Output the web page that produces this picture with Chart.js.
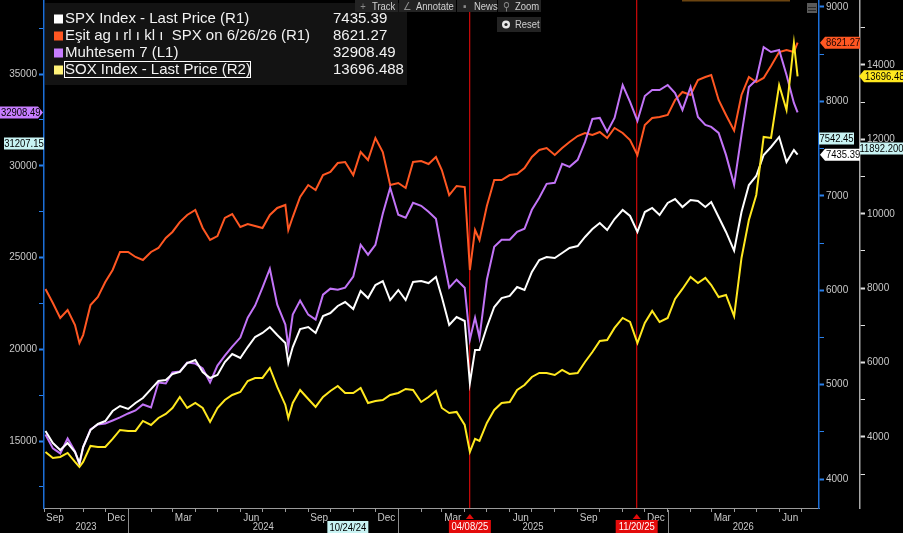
<!DOCTYPE html>
<html>
<head>
<meta charset="utf-8">
<script src="https://cdn.jsdelivr.net/npm/chart.js@4.4.1/dist/chart.umd.min.js"></script>
<style>
  html, body { margin: 0; padding: 0; background: #000; }
  canvas { display: block; }
</style>
</head>
<body>
<canvas id="chart" width="903" height="533"></canvas>
<script>
// sample dates (roughly every 10 days, plus the sharp dips)
const dates = [
  '2023-09-11', '2023-09-21',
  '2023-10-01', '2023-10-11', '2023-10-21', '2023-10-27',
  '2023-11-01', '2023-11-11', '2023-11-21',
  '2023-12-01', '2023-12-11', '2023-12-21',
  '2024-01-01', '2024-01-11', '2024-01-21',
  '2024-02-01', '2024-02-11', '2024-02-21',
  '2024-03-01', '2024-03-11', '2024-03-21',
  '2024-04-01', '2024-04-11', '2024-04-21',
  '2024-05-01', '2024-05-11', '2024-05-21',
  '2024-06-01', '2024-06-11', '2024-06-21',
  '2024-07-01', '2024-07-11', '2024-07-21',
  '2024-08-01', '2024-08-05', '2024-08-11', '2024-08-21',
  '2024-09-01', '2024-09-11', '2024-09-21',
  '2024-10-01', '2024-10-11', '2024-10-21',
  '2024-11-01', '2024-11-11', '2024-11-21',
  '2024-12-01', '2024-12-11', '2024-12-21',
  '2025-01-01', '2025-01-11', '2025-01-21',
  '2025-02-01', '2025-02-11', '2025-02-21',
  '2025-03-01', '2025-03-11', '2025-03-21',
  '2025-04-01', '2025-04-08', '2025-04-15', '2025-04-21',
  '2025-05-01', '2025-05-11', '2025-05-21',
  '2025-06-01', '2025-06-11', '2025-06-21',
  '2025-07-01', '2025-07-11', '2025-07-21',
  '2025-08-01', '2025-08-11', '2025-08-21',
  '2025-09-01', '2025-09-11', '2025-09-21',
  '2025-10-01', '2025-10-11', '2025-10-21',
  '2025-11-01', '2025-11-11', '2025-11-21',
  '2025-12-01', '2025-12-11', '2025-12-21',
  '2026-01-01', '2026-01-11', '2026-01-21',
  '2026-02-01', '2026-02-11', '2026-02-21',
  '2026-03-01', '2026-03-11', '2026-03-21',
  '2026-04-01', '2026-04-11', '2026-04-21',
  '2026-05-01', '2026-05-11', '2026-05-21',
  '2026-06-01', '2026-06-11', '2026-06-21', '2026-06-26'
];

// SPX Index (R1)
const spx = [
  4509, 4381,
  4307, 4381, 4286, 4170,
  4339, 4519, 4583,
  4614, 4720, 4773,
  4742, 4805, 4858,
  4953, 5038, 5049,
  5112, 5134, 5229,
  5261, 5134, 5070,
  5102, 5239, 5324,
  5282, 5398, 5504,
  5547, 5610, 5525,
  5441, 5229, 5398, 5589,
  5610, 5547, 5727,
  5758, 5833, 5875,
  5801, 5992, 5917,
  6055, 6097, 5896,
  6002, 5896, 6087,
  6097, 6076, 6140,
  5928, 5631, 5716,
  5674, 5017, 5367, 5367,
  5610, 5822, 5917,
  5939, 6034, 6002,
  6193, 6320, 6352,
  6341, 6394, 6447,
  6468, 6564, 6648,
  6712, 6638, 6754,
  6850, 6786, 6617,
  6828, 6871, 6797,
  6924, 6966, 6881,
  6956, 6945, 6881,
  6934, 6775, 6617,
  6420, 6828, 7114,
  7210, 7432, 7517,
  7623, 7358, 7485, 7435.39
];

// equal weight SPX (R1)
const equalWeight = [
  6013, 5864,
  5706, 5790, 5631, 5441,
  5525, 5843, 5928,
  6087, 6214, 6405,
  6405, 6352, 6320,
  6405, 6447, 6553,
  6617, 6722, 6797,
  6850, 6659, 6532,
  6574, 6765, 6807,
  6670, 6701, 6680,
  6659, 6797, 6871,
  6903, 6638, 6775, 6987,
  7114, 7061, 7220,
  7252, 7347, 7358,
  7220, 7464, 7379,
  7612, 7464, 7114,
  7136, 7083, 7358,
  7369, 7337, 7411,
  7273, 7008, 7104,
  7093, 6214, 6638, 6532,
  6892, 7167, 7167,
  7220, 7231, 7294,
  7411, 7485, 7506,
  7432, 7506, 7570,
  7633, 7665, 7644,
  7676, 7612, 7718,
  7665, 7591, 7432,
  7750, 7824, 7835,
  7856, 8015, 8100,
  8068, 8227, 8258,
  8280, 8015, 7856,
  7690, 8068, 8258,
  8205, 8248, 8375,
  8523, 8544, 8523, 8621.27
];

// Muhtesem 7 (L1)
const mag7 = [
  15358, 14596,
  14324, 15140, 14433, 13725,
  14651, 15630, 15902,
  15956, 16120, 16283,
  16501, 16664, 16990,
  16827, 18187, 18133,
  18731, 18786, 19275,
  19221, 18949, 18187,
  19112, 19656, 20146,
  20636, 21724, 22377,
  23356, 24390, 22431,
  21343, 20146, 21887, 22649,
  21887, 21615, 22975,
  23302, 23247, 23356,
  23955, 25696, 25152,
  25696, 27383, 28797,
  27328, 27165, 27981,
  27818, 27491, 27111,
  25369, 23356, 23792,
  23356, 20527, 21724, 20636,
  23792, 25587, 25968,
  25968, 26403, 26566,
  27600, 28253, 29015,
  29069, 30103, 29940,
  30321, 31300, 32552,
  32606, 31844, 32606,
  34401, 33477, 32443,
  33803, 34129, 34129,
  34401, 33966, 33041,
  34293, 32660, 32225,
  32116, 31790, 30593,
  28960, 31681, 34293,
  34674, 36469, 36197,
  36306, 34946, 33422, 32908.49
];

// SOX Index (R2)
const sox = [
  3597, 3436,
  3463, 3571, 3329, 3194,
  3329, 3759, 3732,
  3732, 3947, 4189,
  4162, 4162, 4431,
  4323, 4511, 4619,
  4780, 5076, 4780,
  4915, 4780, 4404,
  4780, 4995, 5130,
  5210, 5506, 5587,
  5587, 5855, 5345,
  4861, 4511, 4915, 5264,
  5022, 4807, 5076,
  5237, 5372, 5183,
  5183, 5318, 4915,
  4968, 4995, 5130,
  5183, 5291, 5264,
  4941, 5076, 5237,
  4780, 4646, 4673,
  4323, 3597, 3947, 3893,
  4377, 4726, 4915,
  4941, 5264, 5398,
  5613, 5721, 5721,
  5667, 5802, 5694,
  5721, 6017, 6285,
  6581, 6608, 6931,
  7199, 7092, 6527,
  7065, 7388, 7092,
  7199, 7710, 7979,
  8301, 8140, 8275,
  8086, 7764, 7818,
  7250, 8812, 9834,
  10506, 12065, 12038,
  13462, 12790, 14591, 13696.488
];

// axis ranges and ticks
const leftRange = [11349, 39033];
const r1Range = [3693, 9074];
const r2Range = [2091, 15747];
const leftTicks = [12500, 15000, 17500, 20000, 22500, 25000, 27500, 30000, 32500, 35000, 37500];
const r1Ticks = [4000, 4500, 5000, 5500, 6000, 6500, 7000, 7500, 8000, 8500, 9000];
const r2Ticks = [3000, 4000, 5000, 6000, 7000, 8000, 9000, 10000, 11000, 12000, 13000, 14000, 15000];
const monthNames = ['Jan', 'Feb', 'Mar', 'Apr', 'May', 'Jun', 'Jul', 'Aug', 'Sep', 'Oct', 'Nov', 'Dec'];
const labeledMonths = [2, 5, 8, 11];
const years = [2023, 2024, 2025, 2026];

const legendNames = [
  'SPX Index - Last Price (R1)',
  'Eşit ag ı rl ı kl ı  SPX on 6/26/26 (R1)',
  'Muhtesem 7 (L1)',
  'SOX Index - Last Price (R2)'
];
const legendValues = ['7435.39', '8621.27', '32908.49', '13696.488'];
const eventDates = ['2025-04-08', '2025-11-20'];
const eventLabels = ['04/08/25', '11/20/25'];
const cursorDate = '2024-10-24';
const cursorLabel = '10/24/24';
const cursorValues = { left: 31207.15, r1: 7542.45, r2: 11892.2 };

const toDay = s => Date.UTC(+s.slice(0, 4), +s.slice(5, 7) - 1, +s.slice(8, 10)) / 864e5;
const xMin = toDay('2023-09-09');
const xMax = toDay('2026-07-25');

const family = '"Liberation Sans", Arial, sans-serif';
const axisFont = { family: family, size: 10 };
const labelColor = '#c8c8c8';

function yAxis(position, range, ticks, major, width, lineColor, tickColor, weight) {
  return {
    type: 'linear',
    position: position,
    min: range[0],
    max: range[1],
    weight: weight,
    afterBuildTicks: s => { s.ticks = ticks.map(v => ({ value: v })); },
    afterFit: s => { s.width = width; s.paddingTop = 0; s.paddingBottom = 0; },
    ticks: {
      autoSkip: false,
      color: labelColor,
      padding: 2,
      font: axisFont,
      callback: v => (v % major === 0 ? String(v) : '')
    },
    grid: {
      drawOnChartArea: false,
      drawTicks: true,
      tickLength: 5,
      tickColor: tickColor,
      tickWidth: c => (c.tick && c.tick.value % major === 0 ? 2 : 1)
    },
    border: { display: true, color: lineColor, width: 1.5 }
  };
}

function series(label, values, color, axis, order) {
  return {
    label: label,
    yAxisID: axis,
    order: order,
    data: dates.map((d, i) => ({ x: toDay(d), y: values[i] })),
    borderColor: color,
    backgroundColor: color,
    borderWidth: 2,
    pointRadius: 0,
    tension: 0,
    fill: false
  };
}

// narrow text: squeeze horizontally so it fits the small tags
function narrowText(ctx, text, x, y, align) {
  const sx = 0.86;
  const w = ctx.measureText(text).width * sx;
  let left = x;
  if (align === 'center') left = x - w / 2;
  ctx.save();
  ctx.textAlign = 'left';
  ctx.translate(left, y);
  ctx.scale(sx, 1);
  ctx.fillText(text, 0, 0);
  ctx.restore();
}

function drawTag(ctx, x1, x2, yc, text, bg, fg, point) {
  const h = 12, t = yc - h / 2, b = yc + h / 2, p = 5;
  ctx.fillStyle = bg;
  ctx.beginPath();
  if (point === 'left') {
    ctx.moveTo(x1, yc); ctx.lineTo(x1 + p, t); ctx.lineTo(x2, t); ctx.lineTo(x2, b); ctx.lineTo(x1 + p, b);
  } else if (point === 'right') {
    ctx.moveTo(x2, yc); ctx.lineTo(x2 - p, b); ctx.lineTo(x1, b); ctx.lineTo(x1, t); ctx.lineTo(x2 - p, t);
  } else {
    ctx.rect(x1, t, x2 - x1, h);
  }
  ctx.closePath();
  ctx.fill();
  ctx.fillStyle = fg;
  ctx.font = '11px ' + family;
  ctx.textBaseline = 'middle';
  if (point === 'left') narrowText(ctx, text, x1 + p + 1, yc + 0.5, 'left');
  else if (point === 'right') narrowText(ctx, text, x1 + 1, yc + 0.5, 'left');
  else narrowText(ctx, text, (x1 + x2) / 2, yc + 0.5, 'center');
}

const overlay = {
  id: 'overlay',
  beforeDraw(chart) {
    const ctx = chart.ctx;
    ctx.save();
    ctx.fillStyle = '#000';
    ctx.fillRect(0, 0, chart.width, chart.height);
    ctx.restore();
  },
  beforeDatasetsDraw(chart) {
    const { ctx, chartArea: a, scales } = chart;
    ctx.save();
    ctx.fillStyle = '#c00808';
    eventDates.forEach(d => {
      const x = Math.floor(scales.x.getPixelForValue(toDay(d)));
      ctx.fillRect(x, a.top, 1.3, a.bottom - a.top);
    });
    ctx.restore();
  },
  afterDraw(chart) {
    const { ctx, chartArea: a, scales } = chart;
    const xs = scales.x;
    ctx.save();

    // year row
    const bounds = [xMin].concat(years.slice(1).map(y => toDay(y + '-01-01')), [xMax]);
    ctx.font = '11px ' + family;
    ctx.fillStyle = labelColor;
    ctx.textBaseline = 'middle';
    years.forEach((y, i) => {
      const x1 = xs.getPixelForValue(bounds[i]);
      const x2 = xs.getPixelForValue(bounds[i + 1]);
      narrowText(ctx, String(y), (x1 + x2) / 2, 527, 'center');
    });
    ctx.fillStyle = '#8a8a8a';
    bounds.slice(1, -1).forEach(v => {
      const x = Math.round(xs.getPixelForValue(v));
      ctx.fillRect(x, a.bottom + 2, 1, 533 - a.bottom - 2);
    });

    // date flags under the axis
    const cx = xs.getPixelForValue(toDay(cursorDate));
    drawTag(ctx, cx - 20, cx + 21, 527, cursorLabel, '#c8f3f3', '#000', null);
    eventDates.forEach((d, i) => {
      const x = xs.getPixelForValue(toDay(d));
      ctx.fillStyle = '#e30b0b';
      ctx.beginPath();
      ctx.moveTo(x, a.bottom + 6);
      ctx.lineTo(x - 4, a.bottom + 11);
      ctx.lineTo(x + 4, a.bottom + 11);
      ctx.closePath();
      ctx.fill();
      ctx.fillRect(x - 21, 520, 42, 13);
      ctx.fillStyle = '#fff';
      ctx.font = '11px ' + family;
      ctx.textBaseline = 'middle';
      narrowText(ctx, eventLabels[i], x, 527, 'center');
    });

    // legend box
    const colors = ['#ffffff', '#ff5722', '#c77dff', '#fff27a'];
    ctx.fillStyle = '#131313';
    ctx.fillRect(45, 3, 362, 82);
    ctx.font = '15px ' + family;
    ctx.textBaseline = 'middle';
    ctx.textAlign = 'left';
    legendNames.forEach((name, i) => {
      const y = 19 + i * 17;
      ctx.fillStyle = colors[i];
      ctx.fillRect(54, y - 4.5, 9, 9);
      ctx.fillStyle = '#f2f2f2';
      ctx.fillText(name, 65, y);
      ctx.fillText(legendValues[i], 333, y);
    });
    ctx.strokeStyle = '#ffffff';
    ctx.lineWidth = 1;
    ctx.strokeRect(64.5, 61.5, 186, 16);

    // toolbar
    const buttons = [
      { text: 'Track', x1: 355, x2: 398, tx: 372, icon: '+' },
      { text: 'Annotate', x1: 399, x2: 456, tx: 416, icon: '∠' },
      { text: 'News', x1: 457, x2: 497, tx: 474, icon: '▪' },
      { text: 'Zoom', x1: 498, x2: 541, tx: 515, icon: '⚲' }
    ];
    ctx.font = '11px ' + family;
    buttons.forEach(b => {
      ctx.fillStyle = '#232323';
      ctx.fillRect(b.x1, 0, b.x2 - b.x1, 12);
      ctx.fillStyle = '#8c8c8c';
      narrowText(ctx, b.icon, b.x1 + 8, 6.5, 'center');
      ctx.fillStyle = '#d0d0d0';
      narrowText(ctx, b.text, b.tx, 6.5, 'left');
    });
    ctx.fillStyle = '#232323';
    ctx.fillRect(497, 17, 44, 15);
    ctx.fillStyle = '#e8e8e8';
    ctx.beginPath();
    ctx.arc(506, 24.5, 4, 0, Math.PI * 2);
    ctx.fill();
    ctx.fillStyle = '#232323';
    ctx.beginPath();
    ctx.arc(506, 24.5, 1.6, 0, Math.PI * 2);
    ctx.fill();
    ctx.fillStyle = '#d0d0d0';
    narrowText(ctx, 'Reset', 515, 24.5, 'left');

    // small top decorations
    ctx.fillStyle = '#6b4410';
    ctx.fillRect(682, 0, 108, 1.5);
    ctx.fillStyle = '#5a5a5a';
    ctx.fillRect(807, 3, 10, 10);
    ctx.fillStyle = '#2a2a2a';
    ctx.fillRect(808, 7, 8, 1);
    ctx.fillRect(808, 10, 8, 1);

    // value tags on the axes
    const yL = scales.yL, y1 = scales.yR1, y2 = scales.yR2;
    const r1x = a.right, r2x = y2.left;
    drawTag(ctx, r1x + 1, r1x + 41, y1.getPixelForValue(equalWeight[equalWeight.length - 1]), '8621.27', '#ff5722', '#1a0500', 'left');
    drawTag(ctx, r1x, r1x + 35, y1.getPixelForValue(cursorValues.r1) - 6, '7542.45', '#c8f3f3', '#000', null);
    drawTag(ctx, r1x + 1, r1x + 41, y1.getPixelForValue(spx[spx.length - 1]), '7435.39', '#ffffff', '#000', 'left');
    drawTag(ctx, r2x - 1, 906, y2.getPixelForValue(sox[sox.length - 1]), '13696.488', '#ffe81f', '#000', 'left');
    drawTag(ctx, r2x, 903, y2.getPixelForValue(cursorValues.r2) + 5, '11892.200', '#c8f3f3', '#000', null);
    drawTag(ctx, 0, a.left - 1, yL.getPixelForValue(mag7[mag7.length - 1]), '32908.49', '#c77dff', '#000', 'right');
    drawTag(ctx, 4, a.left, yL.getPixelForValue(cursorValues.left), '31207.15', '#c8f3f3', '#000', null);

    ctx.restore();
  }
};

new Chart(document.getElementById('chart'), {
  type: 'line',
  data: {
    datasets: [
      series('SOX Index - Last Price (R2)', sox, '#ffe81f', 'yR2', 0),
      series('SPX Index - Last Price (R1)', spx, '#ffffff', 'yR1', 1),
      series('Muhtesem 7 (L1)', mag7, '#c274f7', 'yL', 2),
      series('Eşit ag ı rl ı kl ı  SPX on 6/26/26 (R1)', equalWeight, '#ff5722', 'yR1', 3)
    ]
  },
  options: {
    responsive: false,
    animation: false,
    events: [],
    layout: { padding: 0 },
    plugins: { legend: { display: false }, tooltip: { enabled: false } },
    scales: {
      x: {
        type: 'linear',
        position: 'bottom',
        min: xMin,
        max: xMax,
        afterBuildTicks: s => {
          const ticks = [{ value: xMin }];
          for (let y = 2023, m = 9; y < 2026 || m <= 6; m++) {
            if (m > 11) { m = 0; y++; }
            ticks.push({ value: Date.UTC(y, m, 1) / 864e5 });
          }
          s.ticks = ticks;
        },
        afterFit: s => { s.height = 25; s.paddingLeft = 0; s.paddingRight = 0; },
        ticks: {
          autoSkip: false,
          maxRotation: 0,
          labelOffset: 11,
          padding: 0,
          color: labelColor,
          font: axisFont,
          callback: v => {
            const m = new Date(v * 864e5).getUTCMonth();
            return labeledMonths.includes(m) ? monthNames[m] : '';
          }
        },
        grid: { drawOnChartArea: false, drawTicks: true, tickLength: 4, tickColor: '#9a9a9a' },
        border: { display: true, color: '#9a9a9a', width: 1 }
      },
      yL: yAxis('left', leftRange, leftTicks, 5000, 44, '#1c6fd8', '#2a80ea', 0),
      yR1: yAxis('right', r1Range, r1Ticks, 1000, 41, '#1c6fd8', '#2a80ea', 0),
      yR2: yAxis('right', r2Range, r2Ticks, 2000, 43, '#a8a8a8', '#e0e0e0', 1)
    }
  },
  plugins: [overlay]
});
</script>
</body>
</html>
